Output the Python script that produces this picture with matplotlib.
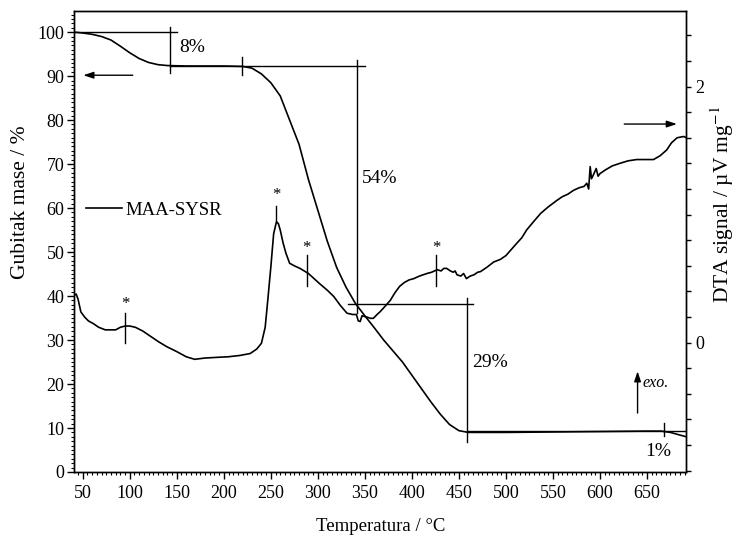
import numpy as np
import matplotlib
matplotlib.use("Agg")
import matplotlib.pyplot as plt
from matplotlib.ticker import MultipleLocator, FixedLocator, FixedFormatter

plt.rcParams['font.family'] = ['Liberation Serif', 'DejaVu Serif']
plt.rcParams['mathtext.fontset'] = 'stix'

# ---------------- data ----------------
tg_temp = [40.7, 50, 60, 70, 80, 90, 100, 110, 120, 130, 140, 160, 180, 200, 220,
           230, 240, 250, 260, 270, 280, 290, 300, 310, 320, 330, 340, 350, 360,
           370, 380, 390, 400, 410, 420, 430, 440, 450, 460, 480, 500, 550, 600,
           650, 665, 675, 685, 692]
tg_mass = [100.0, 99.8, 99.5, 99.0, 98.2, 96.8, 95.3, 94.0, 93.1, 92.6, 92.4, 92.3,
           92.3, 92.3, 92.2, 91.8, 90.5, 88.5, 85.5, 80.0, 74.5, 66.5, 59.5, 52.5,
           46.5, 42.0, 38.3, 35.5, 32.8, 30.0, 27.5, 25.0, 22.0, 19.0, 16.0, 13.2,
           10.8, 9.4, 9.0, 9.0, 9.0, 9.1, 9.2, 9.3, 9.3, 9.0, 8.4, 8.0]

dta_temp = [41, 43, 45, 48, 52, 56, 61, 67, 74, 80, 85, 90, 95, 100, 106, 114, 122,
            130, 139, 150, 160, 169, 180, 192, 205, 217, 228, 235, 240, 244, 247,
            250, 253, 256, 258, 260, 263, 266, 270, 275, 281, 290, 296, 302, 310,
            317, 324, 331, 337, 341, 343, 345, 347, 352, 356, 359, 363, 366, 371,
            377, 382, 387, 392, 397, 402, 408, 416, 421, 427, 431, 434, 437, 441,
            444, 446, 448, 452, 455, 458, 462, 466, 470, 473, 480, 487, 494, 500,
            506, 512, 517, 522, 530, 537, 545, 554, 560, 566, 572, 578, 583, 586,
            588, 589.6, 591, 593, 596, 598, 600, 606, 613, 621, 630, 639, 648, 657,
            664, 671, 676, 682, 689, 692]
dta_signal = [0.37, 0.38, 0.34, 0.24, 0.20, 0.17, 0.15, 0.12, 0.10, 0.10, 0.10, 0.12,
              0.13, 0.13, 0.12, 0.09, 0.05, 0.01, -0.03, -0.07, -0.11, -0.13, -0.12,
              -0.115, -0.11, -0.10, -0.085, -0.05, -0.005, 0.12, 0.35, 0.59, 0.85,
              0.945, 0.93, 0.88, 0.78, 0.70, 0.62, 0.60, 0.58, 0.54, 0.50, 0.46, 0.41,
              0.36, 0.29, 0.23, 0.22, 0.22, 0.17, 0.165, 0.21, 0.20, 0.19, 0.19, 0.22,
              0.24, 0.28, 0.33, 0.39, 0.44, 0.47, 0.49, 0.50, 0.52, 0.54, 0.55, 0.57,
              0.56, 0.58, 0.58, 0.56, 0.55, 0.56, 0.53, 0.52, 0.54, 0.50, 0.52, 0.53,
              0.55, 0.555, 0.59, 0.63, 0.65, 0.68, 0.73, 0.78, 0.82, 0.88, 0.95, 1.01,
              1.06, 1.11, 1.14, 1.16, 1.19, 1.21, 1.22, 1.245, 1.20, 1.375, 1.28, 1.31,
              1.36, 1.30, 1.32, 1.35, 1.38, 1.40, 1.42, 1.43, 1.43, 1.43, 1.46, 1.505,
              1.56, 1.60, 1.61, 1.60]

x_ticks = [50, 100, 150, 200, 250, 300, 350, 400, 450, 500, 550, 600, 650]
y_ticks = [0, 10, 20, 30, 40, 50, 60, 70, 80, 90, 100]
dta_ticks = [-1.0, -0.8, -0.6, -0.4, -0.2, 0.0, 0.2, 0.4, 0.6, 0.8, 1.0, 1.2, 1.4,
             1.6, 1.8, 2.0, 2.2, 2.4]
dta_tick_labels = ['', '', '', '', '', '0', '', '', '', '', '', '', '', '', '', '2', '', '']

# ---------------- figure ----------------
fig = plt.figure(figsize=(7.35, 5.45), dpi=100)
ax = fig.add_axes([74/735, 1-472/545, (686-74)/735, (472-11)/545])
ax2 = ax.twinx()

lw = 1.2
tg_line, = ax.plot(tg_temp, tg_mass, color='black', lw=lw)
ax2.plot(dta_temp, dta_signal, color='black', lw=lw)

ax.set_xlim(40.7, 691.5)
ax.set_ylim(0, 104.8)
ax2.set_ylim(-1.01, 2.59)

for sp in ax.spines.values():
    sp.set_linewidth(1.0)
for sp in ax2.spines.values():
    sp.set_linewidth(1.0)

ax.xaxis.set_major_locator(FixedLocator(x_ticks))
ax.xaxis.set_minor_locator(MultipleLocator(5))
ax.yaxis.set_major_locator(FixedLocator(y_ticks))
ax.yaxis.set_minor_locator(MultipleLocator(1))
ax.tick_params(axis='both', which='major', direction='out', length=5, width=1.0,
               labelsize=13, top=False, right=False)
ax.tick_params(axis='x', which='major', pad=4)
ax.tick_params(axis='y', which='major', pad=2)
ax.tick_params(axis='both', which='minor', direction='out', length=2.5, width=0.8,
               top=False, right=False)

ax2.yaxis.set_major_locator(FixedLocator(dta_ticks))
ax2.yaxis.set_major_formatter(FixedFormatter(dta_tick_labels))
ax2.tick_params(axis='y', which='major', direction='out', length=3.5, width=1.0,
                labelsize=13, pad=3)

ax.set_xlabel('Temperatura / °C', fontsize=13.5)
ax.xaxis.set_label_coords(0.5008, -0.100)
ax.set_ylabel('Gubitak mase / %', fontsize=15.5)
ax.yaxis.set_label_coords(-0.072, 0.586)
ax2.set_ylabel('DTA signal / µV mg$^{-1}$', fontsize=15.5)
ax2.yaxis.set_label_coords(1.037, 0.581)

# ---------------- annotations (TG axis) ----------------
k = dict(color='black', lw=1.0)
# 8 %
ax.plot([40.7, 150.5], [100, 100], **k)
ax.plot([142.8, 142.8], [101.1, 90.7], **k)
ax.text(153, 96.5, '8%', fontsize=14, ha='left', va='center')
# 92 plateau line + tick
ax.plot([142.8, 350], [92.3, 92.3], **k)
ax.plot([219, 219], [94.3, 90.2], **k)
# 54 %
ax.plot([341.4, 341.4], [93.6, 36.1], **k)
ax.plot([332.5, 465.5], [38.3, 38.3], **k)
ax.text(347, 66.7, '54%', fontsize=14, ha='left', va='center')
# 29 %
ax.plot([458.5, 458.5], [39.5, 6.9], **k)
ax.text(464, 24.8, '29%', fontsize=14, ha='left', va='center')
# 1 %
ax.plot([458.5, 691.5], [9.3, 9.3], **k)
ax.plot([667.7, 667.7], [11.2, 8.2], **k)
ax.text(662, 4.6, '1%', fontsize=14, ha='center', va='center')

# arrows
ap = dict(arrowstyle='-|>,head_length=0.6,head_width=0.2', color='black', lw=1.0,
          shrinkA=0, shrinkB=0)
ax.annotate('', xy=(50.6, 90.2), xytext=(103.2, 90.2), arrowprops=ap)
ax.annotate('', xy=(681.8, 79.1), xytext=(625.8, 79.1), arrowprops=ap)
ax.annotate('', xy=(640.0, 22.9), xytext=(640.0, 13.4), arrowprops=ap)
ax.text(645, 20.2, 'exo.', fontsize=11.5, style='italic', ha='left', va='center')

# legend
ax.legend([tg_line], ['MAA-SYSR'], loc='center left', bbox_to_anchor=(0.0196, 0.568),
          frameon=False, fontsize=13.5, handlelength=1.9, handletextpad=0.18,
          borderpad=0, borderaxespad=0)

# ---------------- asterisk marks (DTA axis) ----------------
marks_T = [95.0, 256.0, 288.3, 425.8]
marks_lo = [-0.002, 0.96, 0.44, 0.44]
marks_hi = [0.23, 1.07, 0.685, 0.685]
star_y = [0.30, 1.15, 0.74, 0.74]
for t, lo, hi, sy in zip(marks_T, marks_lo, marks_hi, star_y):
    ax2.plot([t, t], [lo, hi], color='black', lw=1.0)
    ax2.text(t, sy, '*', fontsize=12, ha='center', va='center')

fig.savefig('out.png', dpi=100)
